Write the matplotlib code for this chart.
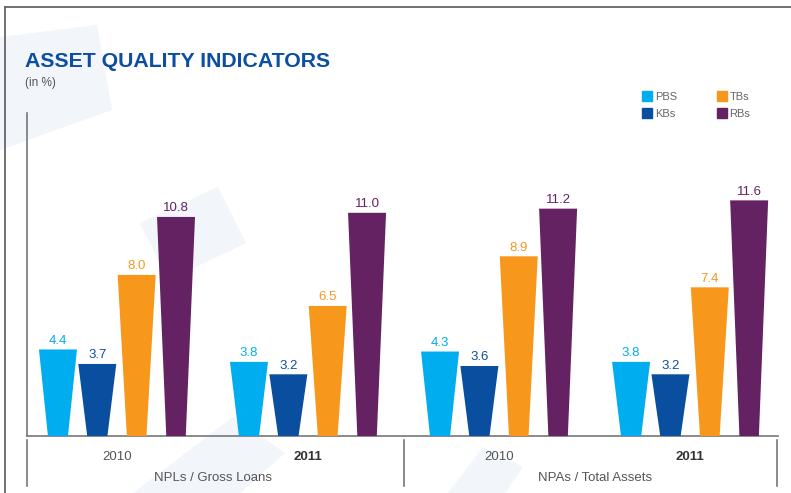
import matplotlib
matplotlib.use('Agg')
import matplotlib.pyplot as plt
from matplotlib.patches import Polygon
from matplotlib.lines import Line2D

plt.rcParams['font.family'] = ['Liberation Sans', 'DejaVu Sans']

groups = ['NPLs / Gross Loans', 'NPAs / Total Assets']
years = ['2010', '2011', '2010', '2011']
banks = ['PBS', 'KBs', 'TBs', 'RBs']
colors = ['#00aeef', '#0a4f9f', '#f7981d', '#642263']
pbs = [4.4, 3.8, 4.3, 3.8]
kbs = [3.7, 3.2, 3.6, 3.2]
tbs = [8.0, 6.5, 8.9, 7.4]
rbs = [10.8, 11.0, 11.2, 11.6]
series = [pbs, kbs, tbs, rbs]

W, H = 791, 493
fig = plt.figure(figsize=(W / 100, H / 100), dpi=100)

# faint background shapes (pixel coords, y from top)
bg = [
    [(0, 37), (97, 25), (112, 110), (0, 150)],
    [(140, 223), (218, 187), (246, 243), (168, 280)],
    [(133, 493), (233, 417), (285, 453), (240, 493)],
    [(448, 493), (483, 447), (523, 467), (505, 493)],
]
for pts in bg:
    fig.patches.append(Polygon([(x / W, 1 - y / H) for x, y in pts], closed=True,
                               transform=fig.transFigure, fc='#f2f5fa', ec='none', zorder=-5))

# frame lines
fig.add_artist(Line2D([5 / W, 1], [1 - 7 / H, 1 - 7 / H], color='#666666', lw=1.3))
fig.add_artist(Line2D([5 / W, 5 / W], [0, 1 - 7 / H], color='#666666', lw=1.3))

fig.text(25 / W, 1 - 67 / H, 'ASSET QUALITY INDICATORS', color='#0b4ea2',
         fontsize=15.3, fontweight='bold', va='baseline')
fig.text(25 / W, 1 - 86 / H, '(in %)', color='#555555', fontsize=8.5, va='baseline')

ax = fig.add_axes([27 / W, (H - 436) / H, (778 - 27) / W, (436 - 113) / H])
ax.set_zorder(1)
ax.patch.set_alpha(0)
ax.set_xlim(-0.471, 3.46)
ax.set_ylim(0.22, 15.82)
for s in ['top', 'right']:
    ax.spines[s].set_visible(False)
ax.spines['left'].set_color('#777777')
ax.spines['bottom'].set_color('#777777')
ax.spines['left'].set_linewidth(1.2)
ax.spines['bottom'].set_linewidth(1.2)
ax.set_xticks([])
ax.set_yticks([])

step = 0.206
top_w = 0.199
bot_w = 0.10
for i, (vals, c) in enumerate(zip(series, colors)):
    for g, v in enumerate(vals):
        x = g + (i - 1.5) * step
        poly = Polygon([(x - bot_w / 2, 0), (x + bot_w / 2, 0),
                        (x + top_w / 2, v), (x - top_w / 2, v)],
                       closed=True, fc=c, ec='none', zorder=3)
        ax.add_patch(poly)
        ax.annotate(f'{v:.1f}', (x, v), xytext=(0, 2), textcoords='offset points',
                    ha='center', va='bottom', color=c, fontsize=9.5)

tr = ax.get_xaxis_transform()
for xs in [-0.471, 1.503, 3.455]:
    ax.plot([xs, xs], [-0.012, -0.155], transform=tr, color='#777777', lw=1.2, clip_on=False)
for g, y in enumerate(years):
    bold = y == '2011'
    ax.text(g, -0.065, y, transform=tr, ha='center', va='center', fontsize=9.5,
            color='#333333' if bold else '#555555', fontweight='bold' if bold else 'normal')
for k, name in enumerate(groups):
    ax.text(2 * k + 0.5, -0.13, name, transform=tr, ha='center', va='center',
            fontsize=9.5, color='#555555')

handles = [Line2D([], [], marker='s', ls='none', color=c, markersize=6.5) for c in colors]
fig.legend(handles, banks, loc='upper left', bbox_to_anchor=(643 / W, 1 - 92 / H),
           ncol=2, frameon=False, fontsize=8, labelcolor='#666666',
           handlelength=0.8, handletextpad=0.25, columnspacing=3.7, labelspacing=0.6,
           borderpad=0, borderaxespad=0)

fig.savefig('out.png', dpi=100)
